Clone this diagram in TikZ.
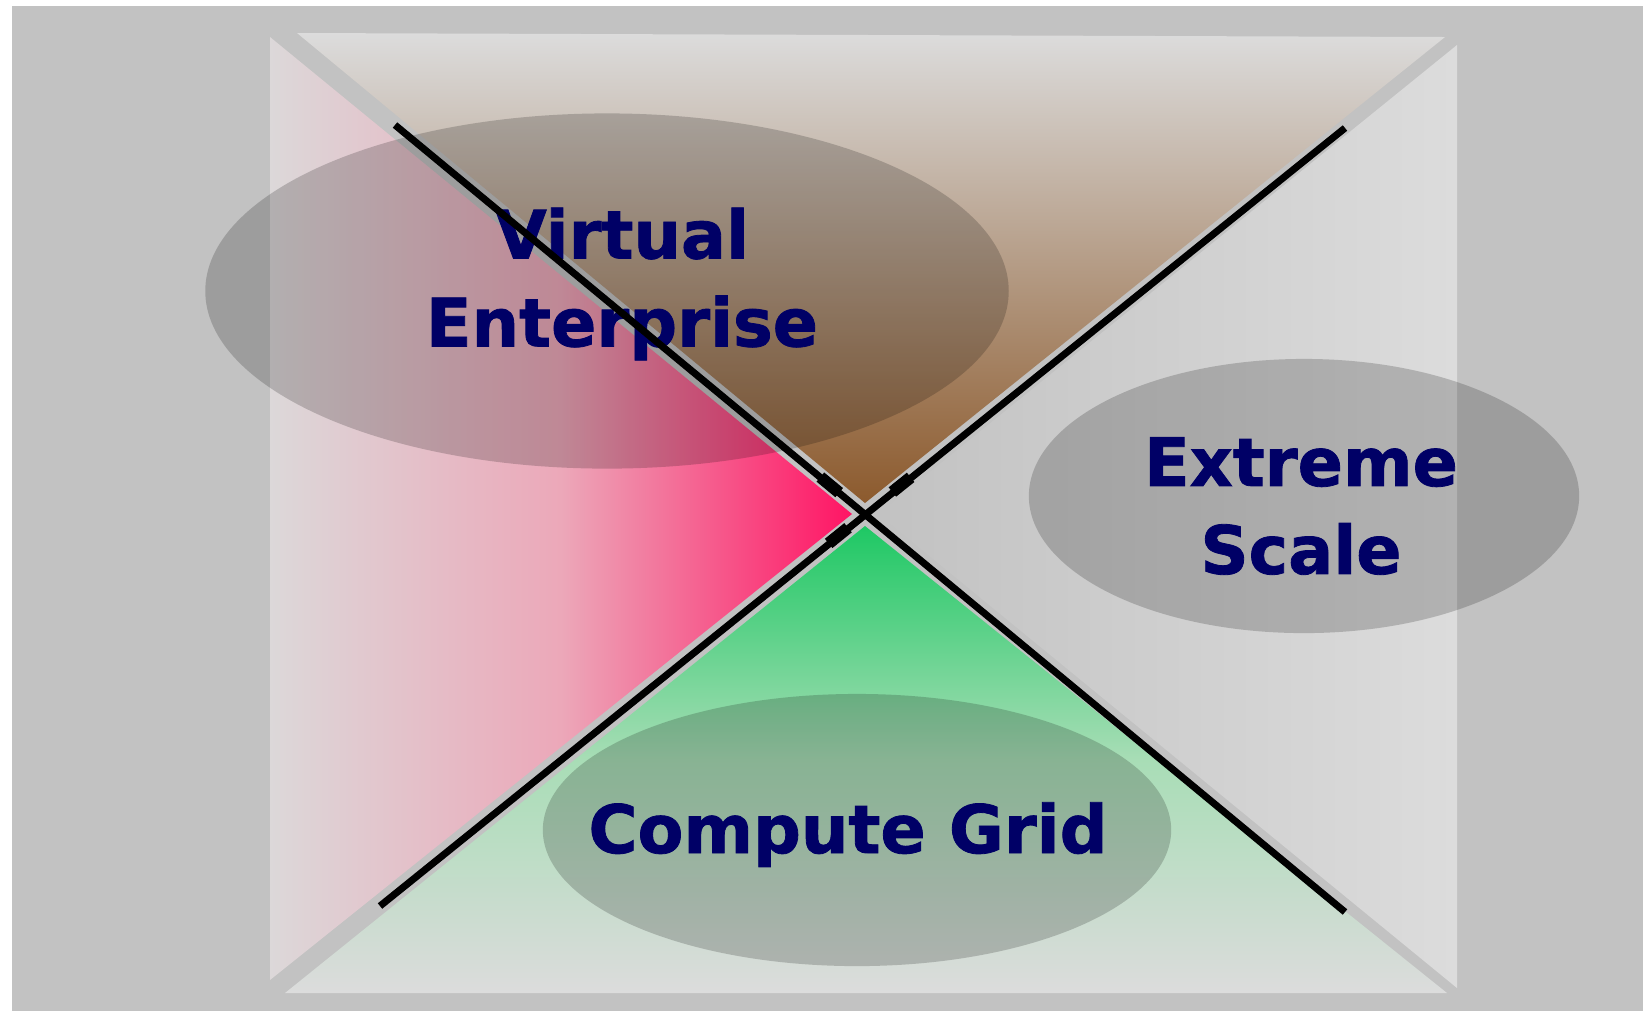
\documentclass[tikz,border=0pt]{standalone}
\usepackage{fontspec}
\newfontfamily\areafont[FakeBold=1.2]{DejaVu Sans Bold}
\usetikzlibrary{calc,shapes.geometric}

\definecolor{dotgray}{gray}{0.76}
\definecolor{leftpale}{HTML}{DCD8D9}
\definecolor{leftmid}{HTML}{ECA8B9}
\definecolor{leftred}{HTML}{FF1464}
\definecolor{toppale}{HTML}{DCDCDC}
\definecolor{topbrown}{HTML}{8C5A2D}
\definecolor{rightdark}{HTML}{C2C2C2}
\definecolor{rightpale}{HTML}{DCDCDC}
\definecolor{botgreen}{HTML}{1EC864}
\definecolor{botmid}{HTML}{A8DDB6}
\definecolor{botpale}{HTML}{DCDCDC}
\definecolor{navytext}{HTML}{000066}

\begin{document}
\begin{tikzpicture}[
  x=0.01cm, y=-0.01cm,
  zone/.style={ellipse, fill=black, fill opacity=0.19, inner sep=0pt},
  areatext/.style={font=\areafont\fontsize{19}{25}\selectfont, text=navytext, align=center, inner sep=0pt},
  axisline/.style={line width=2pt, black},
  blob/.style={line width=3.4pt, black}
]

\useasboundingbox (0,0) rectangle (1643,1014);
\fill[white] (0,0) rectangle (1643,1014);
\fill[dotgray] (12,6) rectangle (1643,1011);

% triangles
\shade[left color=leftpale, right color=leftred, middle color=leftmid] (270,37) -- (852,514) -- (270,980) -- cycle;
\shade[top color=toppale, bottom color=topbrown] (297,33) -- (1445,37) -- (865,503) -- cycle;
\shade[left color=rightdark, right color=rightpale] (878,514) -- (1457,45) -- (1457,988) -- cycle;
\shade[top color=botgreen, bottom color=botpale, middle color=botmid] (865,526) -- (1447,993) -- (285,993) -- cycle;

% ellipses
\node[zone, minimum width=8.03cm, minimum height=3.55cm] (VE) at (607,291) {};
\node[zone, minimum width=5.50cm, minimum height=2.74cm] (ES) at (1304,496) {};
\node[zone, minimum width=6.28cm, minimum height=2.72cm] (CG) at (857,830) {};

% labels
\node[areatext] (VEtext) at (622,284) {Virtual\\Enterprise};
\node[areatext] (EStext) at (1301,506) {Extreme\\Scale};
\node[areatext, anchor=base] (CGtext) at (848,853) {Compute Grid};

% cross
\coordinate (c) at (865,514);
\coordinate (a1) at (395,125);
\coordinate (a2) at (1345,912);
\coordinate (b1) at (1345,128);
\coordinate (b2) at (380,906);

\foreach \s/\e in {a1/a2,b1/b2}
  \draw[axisline] (\s) -- (\e);

\draw[blob] ($(c)!0.055!(a1)$) -- ($(c)!0.095!(a1)$);
\draw[blob] ($(c)!0.057!(b1)$) -- ($(c)!0.095!(b1)$);
\draw[blob] ($(c)!0.035!(b2)$) -- ($(c)!0.075!(b2)$);

\end{tikzpicture}
\end{document}
